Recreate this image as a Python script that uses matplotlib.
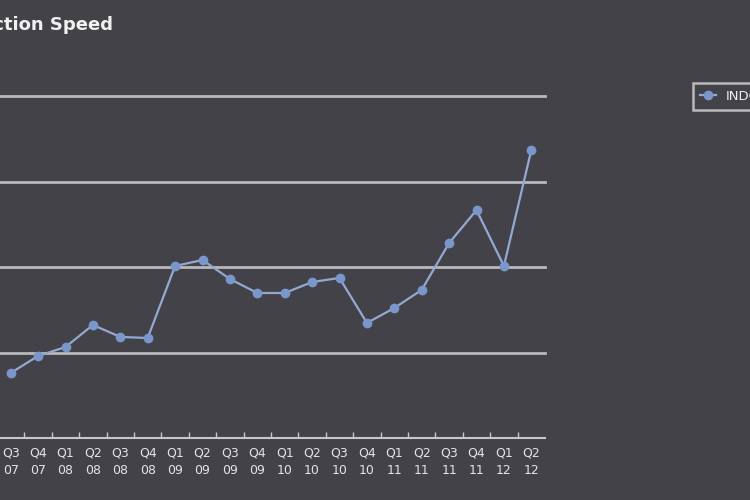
import matplotlib.pyplot as plt

quarters = ["Q3", "Q4", "Q1", "Q2", "Q3", "Q4", "Q1", "Q2", "Q3", "Q4",
            "Q1", "Q2", "Q3", "Q4", "Q1", "Q2", "Q3", "Q4", "Q1", "Q2"]
years = ["07", "07", "08", "08", "08", "08", "09", "09", "09", "09",
         "10", "10", "10", "10", "11", "11", "11", "11", "12", "12"]
speed = [380, 480, 532, 661, 591, 585, 1006, 1041, 930, 848,
         848, 912, 936, 673, 760, 866, 1140, 1333, 1006, 1684]
grid_vals = [500, 1000, 1500, 2000]

bg = "#434248"
fig = plt.figure(figsize=(7.5, 5), dpi=100, facecolor=bg)
ax = fig.add_axes([-3 / 750, 1 - 438 / 500, 548 / 750, (438 - 96) / 500])
ax.set_facecolor(bg)

x = list(range(len(speed)))
for g in grid_vals:
    ax.axhline(g, color="#b9b8bb", lw=2.0, zorder=1, clip_on=False)
ax.plot(x, speed, color="#93a9d2", lw=1.6, marker="o", ms=6,
        mfc="#7a97cb", mec="#7a97cb", label="INDONESIA", zorder=3)

ax.set_xlim(-0.5, len(speed) - 0.5)
ax.set_ylim(0, 2000)
ax.set_yticks([])
for s in ["top", "left", "right"]:
    ax.spines[s].set_visible(False)
ax.spines["bottom"].set_color("#c8c8c8")
ax.spines["bottom"].set_linewidth(1.5)

ax.set_xticks(x)
ax.set_xticklabels([f"{q}\n{y}" for q, y in zip(quarters, years)],
                   color="#e4e4e4", fontsize=9, linespacing=1.45)
ax.tick_params(axis="x", length=0, pad=6)
ax.set_xticks([i + 0.5 for i in x[:-1]], minor=True)
ax.tick_params(axis="x", which="minor", direction="in", length=4,
               color="#c8c8c8", width=1)

fig.text(113 / 750, 1 - 25 / 500, "Connection Speed", ha="right", va="center",
         color="#f0f0f0", fontsize=13, fontweight="bold")

leg = ax.legend(loc="upper left", bbox_to_anchor=(686 / 750, 1 - 76 / 500),
                bbox_transform=fig.transFigure, frameon=True, fancybox=False,
                fontsize=9.5, handlelength=1.2, borderpad=0.55)
leg.get_frame().set_facecolor(bg)
leg.get_frame().set_edgecolor("#d8d8d8")
leg.get_frame().set_linewidth(1.8)
for t in leg.get_texts():
    t.set_color("#f0f0f0")

fig.savefig("out.png", dpi=100, facecolor=bg)
